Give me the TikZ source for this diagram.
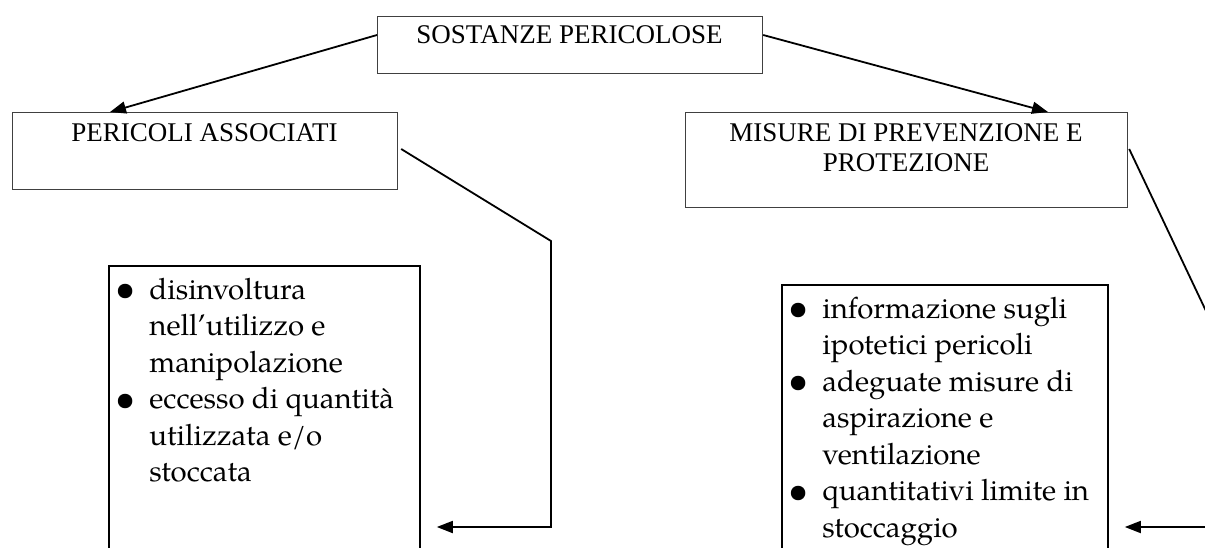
\documentclass[tikz,border=0pt]{standalone}
\usepackage{fontspec}
\setmainfont{Liberation Serif}
\newfontfamily\palfont{texgyrepagella-regular.otf}
\usetikzlibrary{arrows.meta,calc}
\newcommand\lbul{\makebox[17pt][l]{\fontsize{18}{18}\selectfont\raisebox{-0.8pt}{\textbullet}}}
\newcommand\lind{\hspace*{17pt}}
\begin{document}
\begin{tikzpicture}[x=0.5pt,y=-0.5pt,
  headbox/.style={draw=black!75, line width=0.6pt, inner sep=0pt, anchor=north west},
  listbox/.style={draw=black, line width=0.9pt, inner sep=0pt, anchor=north west, minimum height=300pt},
  headtext/.style={font=\fontsize{13.5}{15}\selectfont, align=center, inner sep=0pt},
  listtext/.style={font=\palfont\fontsize{14.7}{18.25}\selectfont, inner sep=0pt, anchor=base west},
  conn/.style={draw=black, line width=0.9pt},
  arr/.style={conn, -{Triangle[length=8pt,width=6pt]}}]
\useasboundingbox (0,0) rectangle (1205,547);
\clip (0,0) rectangle (1205,547);
\fill[white] (0,0) rectangle (1205,547);

% heading boxes
\node[headbox, minimum width=192.5pt, minimum height=28.5pt] (sost) at (377,16) {};
\node[headbox, minimum width=192.5pt, minimum height=38.5pt] (peric) at (12,112) {};
\node[headbox, minimum width=221pt, minimum height=47.5pt] (misure) at (685,112) {};

\node[headtext, anchor=base] (sostT) at (569.5,43) {SOSTANZE PERICOLOSE};
\node[headtext, anchor=base] (pericT) at (204.5,141) {PERICOLI ASSOCIATI};
\node[headtext, anchor=base] (misureT1) at (906,141) {MISURE DI PREVENZIONE E};
\node[headtext, anchor=base] (misureT2) at (906,171) {PROTEZIONE};

% list boxes
\node[listbox, minimum width=155.5pt] (listL) at (108,265) {};
\node[listbox, minimum width=163pt] (listR) at (781,284) {};

\node[listtext] (listLT) at (115,299) {\begin{tabular}[t]{@{}l@{}}
\lbul disinvoltura\\
\lind nell’utilizzo e\\
\lind manipolazione\\
\lbul eccesso di quantità\\
\lind utilizzata e/o\\
\lind stoccata
\end{tabular}};

\node[listtext] (listRT) at (788,318) {\begin{tabular}[t]{@{}l@{}}
\lbul informazione sugli\\
\lind ipotetici pericoli\\
\lbul adeguate misure di\\
\lind aspirazione e\\
\lind ventilazione\\
\lbul quantitativi limite in\\
\lind stoccaggio
\end{tabular}};

% connector coordinates
\coordinate (sL) at ([yshift=-9.5pt]sost.north west);
\coordinate (sR) at ([yshift=-9.5pt]sost.north east);
\coordinate (tP) at ([xshift=49pt]peric.north west);
\coordinate (tM) at ([xshift=181.5pt]misure.north west);
\coordinate (dL) at ([xshift=1.5pt,yshift=-18.5pt]peric.north east);
\coordinate (cL1) at (551,241);
\coordinate (cL2) at (551,527);
\coordinate (tL) at ($(listL.east |- cL2)+(16,0)$);
\coordinate (dR) at ([xshift=0.5pt,yshift=-18.5pt]misure.north east);
\coordinate (cR1) at (1215,330);
\coordinate (cR2) at (1215,527);
\coordinate (tR) at ($(listR.east |- cR2)+(16,0)$);

\draw[arr] (sL) -- (tP);
\draw[arr] (sR) -- (tM);
\draw[arr] (dL) -- (cL1) -- (cL2) -- (tL);
\draw[arr] (dR) -- (cR1) -- (cR2) -- (tR);
\end{tikzpicture}
\end{document}
